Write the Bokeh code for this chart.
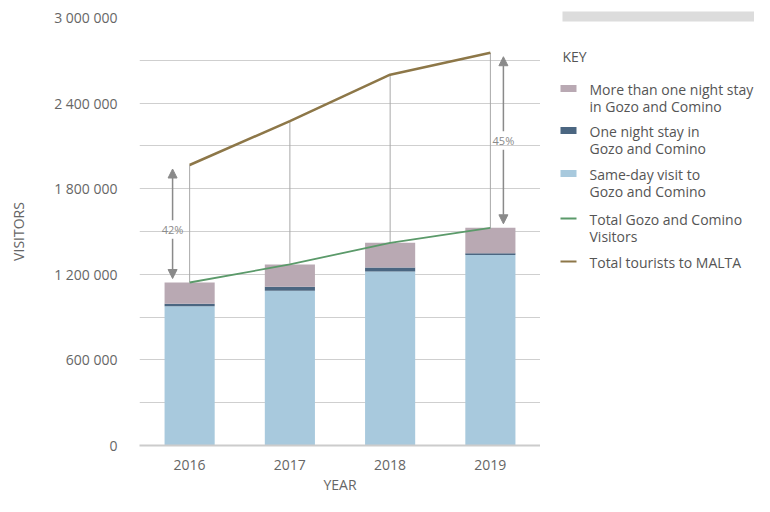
from bokeh.plotting import figure
from bokeh.models import ColumnDataSource, Range1d, FixedTicker, Arrow, NormalHead, Label
from bokeh.layouts import row
from bokeh.embed import file_html
from bokeh.resources import INLINE
from bokeh.core.properties import value

# ---------------- data ----------------
years = [2016, 2017, 2018, 2019]
same_day = [976000, 1084000, 1220000, 1336000]
one_night = [17000, 28000, 28000, 12000]
more_nights = [149500, 157000, 173000, 178000]
total_gozo = [1142500, 1269000, 1421000, 1526000]
total_malta = [1966000, 2274000, 2599000, 2753000]

y_ticks = [0, 600000, 1200000, 1800000, 2400000, 3000000]
y_tick_labels = ["0", "600 000", "1 200 000", "1 800 000", "2 400 000", "3 000 000"]
grid_ticks = [0, 300000, 600000, 900000, 1200000, 1500000, 1800000,
              2100000, 2400000, 2700000, 3000000]

arrow_years = [2016, 2019]
arrow_texts = ["42%", "45%"]
arrow_label_values = [1514000, 2138000]

legend_labels = [
    ["More than one night stay", "in Gozo and Comino"],
    ["One night stay in", "Gozo and Comino"],
    ["Same-day visit to", "Gozo and Comino"],
    ["Total Gozo and Comino", "Visitors"],
    ["Total tourists to MALTA"],
]

# ---------------- styles ----------------
FONT = "Open Sans"
TXT = "#666666"
C_MORE = "#b9a9b3"
C_ONE = "#4b6681"
C_SAME = "#a8c9dd"
C_GREEN = "#5b9a6a"
C_BROWN = "#8d7748"
C_GRID = "#cfcfcf"
C_VLINE = "#a8a8a8"
C_ARROW = "#8a8a8a"

src = ColumnDataSource(dict(years=years, same_day=same_day, one_night=one_night,
                            more_nights=more_nights))

p = figure(width=540, height=496, x_range=Range1d(2015.5, 2019.5),
           y_range=Range1d(0, 3000000), output_backend="svg", toolbar_location=None,
           min_border_left=139, min_border_right=0, min_border_top=17, min_border_bottom=51)
p.frame_align = False
p.outline_line_color = None
p.background_fill_color = "white"
p.xgrid.visible = False
p.ygrid.ticker = FixedTicker(ticks=grid_ticks)
p.ygrid.grid_line_color = C_GRID
p.ygrid.grid_line_width = 1

p.yaxis.ticker = FixedTicker(ticks=y_ticks)
p.yaxis.major_label_overrides = {t: l for t, l in zip(y_ticks, y_tick_labels)}
p.yaxis.axis_line_color = None
p.yaxis.major_tick_line_color = None
p.yaxis.minor_tick_line_color = None
p.yaxis.major_label_standoff = 16
p.yaxis.axis_label = "VISITORS"
p.yaxis.axis_label_standoff = 23

p.xaxis.ticker = FixedTicker(ticks=years)
p.xaxis.axis_line_color = "#cccccc"
p.xaxis.axis_line_width = 2
p.xaxis.major_tick_line_color = None
p.xaxis.minor_tick_line_color = None
p.xaxis.major_label_standoff = 8
p.xaxis.axis_label = "YEAR"
p.xaxis.axis_label_standoff = 2

for ax in (p.xaxis[0], p.yaxis[0]):
    ax.major_label_text_font = FONT
    ax.major_label_text_font_size = "14px"
    ax.major_label_text_color = TXT
    ax.axis_label_text_font = FONT
    ax.axis_label_text_font_size = "14px"
    ax.axis_label_text_font_style = "normal"
    ax.axis_label_text_color = TXT

p.vbar_stack(["same_day", "one_night", "more_nights"], x="years", width=0.5,
             color=[C_SAME, C_ONE, C_MORE], line_color=None, source=src)

p.segment(x0=years, y0=total_gozo, x1=years, y1=total_malta, line_color=C_VLINE, line_width=1)
p.line(years, total_gozo, line_color=C_GREEN, line_width=1.8)
p.line(years, total_malta, line_color=C_BROWN, line_width=2.5)

arrow_offsets = [-0.17, 0.13]
for yr, txt, ly, off in zip(arrow_years, arrow_texts, arrow_label_values, arrow_offsets):
    i = years.index(yr)
    g, m = total_gozo[i], total_malta[i]
    ax = yr + off
    p.add_layout(Arrow(end=NormalHead(size=9, fill_color=C_ARROW, line_color=C_ARROW),
                       x_start=ax, y_start=ly + 65000, x_end=ax, y_end=m - 28000,
                       line_color=C_ARROW, line_width=1.5))
    p.add_layout(Arrow(end=NormalHead(size=9, fill_color=C_ARROW, line_color=C_ARROW),
                       x_start=ax, y_start=ly - 65000, x_end=ax, y_end=g + 28000,
                       line_color=C_ARROW, line_width=1.5))
    p.add_layout(Label(x=ax, y=ly, text=txt, text_align="center", text_baseline="middle",
                       text_font=FONT, text_font_size="11px", text_color=C_ARROW))

# ---------------- legend panel (page pixel rows, y downward) ----------------
lg = figure(width=214, height=496, x_range=Range1d(0, 214), y_range=Range1d(496, 0),
            x_axis_type=None, y_axis_type=None, output_backend="svg",
            toolbar_location=None, min_border=0)
lg.frame_align = False
lg.outline_line_color = None
lg.grid.visible = False

lg.quad(left=[22], right=[214], top=[11], bottom=[21], color="#dcdcdc", line_color=None)
lg.text(x=[22], y=[56], text=["KEY"], text_font=value(FONT), text_font_size="14px",
        text_color="#555555", text_baseline="middle", text_align="left")

item_y = [88, 130, 173, 218, 261]
kinds = ["box", "box", "box", "line", "line"]
colors = [C_MORE, C_ONE, C_SAME, C_GREEN, C_BROWN]
for yy, kind, col, lines in zip(item_y, kinds, colors, legend_labels):
    if kind == "box":
        lg.rect(x=[28], y=[yy], width=16, height=7, color=col, line_color=None)
    else:
        lg.segment(x0=[20], x1=[36], y0=[yy], y1=[yy], line_color=col, line_width=2)
    for k, t in enumerate(lines):
        lg.text(x=[49], y=[yy + 1 + 17 * k], text=[t], text_font=value(FONT),
                text_font_size="14px", text_color="#555555", text_baseline="middle",
                text_align="left")

layout = row(p, lg)
open("out.html", "w").write(file_html(layout, INLINE))
